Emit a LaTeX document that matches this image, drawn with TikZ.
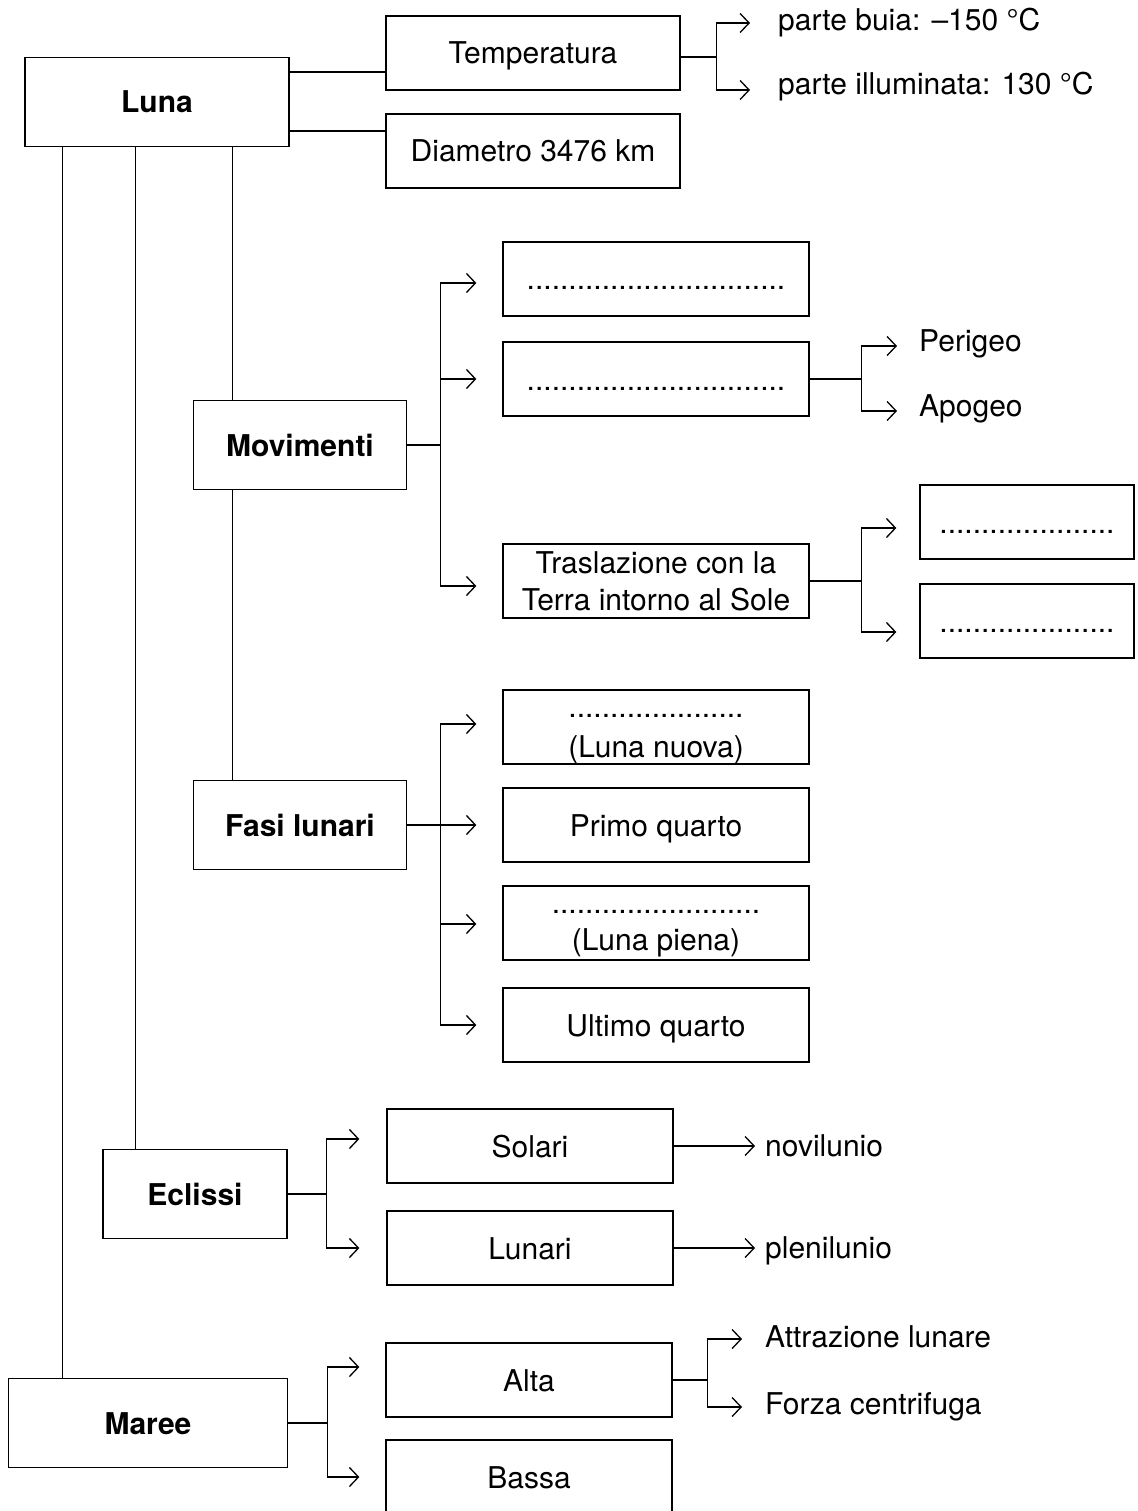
\documentclass[tikz,border=0pt]{standalone}
\usepackage{fontspec}
\setmainfont{TeX Gyre Heros}
\usetikzlibrary{arrows.meta,calc}
\begin{document}
\begin{tikzpicture}[x=1pt,y=-1pt,
  every node/.style={font=\fontsize{30}{37}\selectfont},
  box/.style={draw,line width=1.3pt,minimum width=#1,inner sep=0pt,align=center},
  one/.style={text height=22pt,text depth=0pt},
  sbox/.style={box=306pt,minimum height=74pt},
  cbox/.style={box=286pt,minimum height=74pt,one},
  hbox/.style={draw,line width=1.3pt,inner sep=0pt,minimum height=89pt,one,font=\fontsize{30}{36}\selectfont\bfseries},
  lbl/.style={inner sep=0pt,anchor=base west},
  ln/.style={line width=1.3pt},
  arr/.style={line width=1.3pt,-{Straight Barb[length=9pt,width=19pt,line width=1.3pt]}}
]
\useasboundingbox (0,0) rectangle (1137,1511);

% main nodes
\node[hbox,minimum width=264pt] (luna) at (157,102) {Luna};
\node[box=294pt,minimum height=74pt,one] (temp) at (533,53) {Temperatura};
\node[box=294pt,minimum height=74pt,one] (diam) at (533,151) {Diametro 3476 km};
\node[lbl] (pb) at (778,31) {parte buia: --150 °C};
\node[lbl] (pi) at (778,95) {parte illuminata: 130 °C};

\node[hbox,minimum width=213pt] (mov) at (300,445) {Movimenti};
\node[sbox,one] (m1) at (656,279) {...............................};
\node[sbox,one] (m2) at (656,379) {...............................};
\node[sbox] (m3) at (656,581) {Traslazione con la\\Terra intorno al Sole};
\node[lbl] (per) at (919,351) {Perigeo};
\node[lbl] (apo) at (919,416) {Apogeo};
\node[box=214pt,minimum height=74pt,one] (r1) at (1027,522) {.....................};
\node[box=214pt,minimum height=74pt,one] (r2) at (1027,621) {.....................};

\node[hbox,minimum width=213pt] (fasi) at (300,825) {Fasi lunari};
\node[sbox,text height=66pt,text depth=6pt,font=\fontsize{30}{40}\selectfont] (f1) at (656,727) {.....................\\(Luna nuova)};
\node[sbox,one] (f2) at (656,825) {Primo quarto};
\node[sbox,text height=60pt,text depth=6pt,font=\fontsize{30}{37}\selectfont] (f3) at (656,923) {.........................\\(Luna piena)};
\node[sbox,one] (f4) at (656,1025) {Ultimo quarto};

\node[hbox,minimum width=184pt] (ecl) at (195,1194) {Eclissi};
\node[cbox] (sol) at (530,1146) {Solari};
\node[cbox] (lun) at (530,1248) {Lunari};
\node[lbl] (nov) at (765,1156) {novilunio};
\node[lbl] (ple) at (765,1258) {plenilunio};

\node[hbox,minimum width=279pt] (mar) at (148,1423) {Maree};
\node[cbox] (alt) at (529,1380) {Alta};
\node[cbox] (bas) at (529,1477) {Bassa};
\node[lbl] (att) at (765,1347) {Attrazione lunare};
\node[lbl] (for) at (765,1414) {Forza centrifuga};

% Luna connectors
\coordinate (l1) at ([yshift=30pt]luna.east);
\coordinate (l2) at ([yshift=-29pt]luna.east);
\draw[ln] (l1) -- (l1 -| temp.west);
\draw[ln] (l2) -- (l2 -| diam.west);
\draw[ln] (luna.south west) ++(38pt,0) coordinate (v1) -- (v1 |- mar.north);
\draw[ln] (luna.south west) ++(111pt,0) coordinate (v2) -- (v2 |- ecl.north);
\draw[ln] (luna.south west) ++(208pt,0) coordinate (v3) -- (v3 |- mov.north);
\draw[ln] (mov.south -| v3) -- (fasi.north -| v3);

% temperatura branch
\coordinate (t0) at ([yshift=-4pt]temp.east);
\coordinate (tj) at ([xshift=36pt]t0);
\draw[ln] (t0) -- (tj);
\draw[arr] (tj) |- ([xshift=-28pt,yshift=8pt]pb.base west);
\draw[arr] (tj) |- ([xshift=-28pt,yshift=5pt]pi.base west);

% movimenti branch
\coordinate (mj) at ([xshift=33pt]mov.east);
\draw[ln] (mov.east) -- (mj);
\draw[arr] (mj) |- ([xshift=-26pt,yshift=-4pt]m1.west);
\draw[arr] (mj) |- ([xshift=-26pt]m2.west);
\draw[arr] (mj) |- ([xshift=-26pt,yshift=-5pt]m3.west);

\coordinate (pj) at ([xshift=52pt]m2.east);
\draw[ln] (m2.east) -- (pj);
\draw[arr] (pj) |- ([xshift=-22pt,yshift=5pt]per.base west);
\draw[arr] (pj) |- ([xshift=-22pt,yshift=5pt]apo.base west);

\coordinate (tj2) at ([xshift=52pt]m3.east);
\draw[ln] (m3.east) -- (tj2);
\draw[arr] (tj2) |- ([xshift=-23pt,yshift=-6pt]r1.west);
\draw[arr] (tj2) |- ([xshift=-23pt,yshift=-11pt]r2.west);

% fasi branch
\coordinate (fj) at ([xshift=33pt]fasi.east);
\draw[ln] (fasi.east) -- (fj);
\draw[arr] (fj) |- ([xshift=-26pt,yshift=3pt]f1.west);
\draw[arr] (fj) |- ([xshift=-26pt]f2.west);
\draw[arr] (fj) |- ([xshift=-26pt,yshift=-1pt]f3.west);
\draw[arr] (fj) |- ([xshift=-26pt]f4.west);

% eclissi branch
\coordinate (ej) at ([xshift=39pt]ecl.east);
\draw[ln] (ecl.east) -- (ej);
\draw[arr] (ej) |- ([xshift=-27pt,yshift=7pt]sol.west);
\draw[arr] (ej) |- ([xshift=-27pt]lun.west);
\draw[arr] (sol.east) -- ([xshift=-10pt,yshift=10pt]nov.base west);
\draw[arr] (lun.east) -- ([xshift=-10pt,yshift=10pt]ple.base west);

% maree branch
\coordinate (aj) at ([xshift=39pt]mar.east);
\draw[ln] (mar.east) -- (aj);
\draw[arr] (aj) |- ([xshift=-26pt,yshift=13pt]alt.west);
\draw[arr] (aj) |- ([xshift=-26pt]bas.west);

\coordinate (fj2) at ([xshift=35pt]alt.east);
\draw[ln] (alt.east) -- (fj2);
\draw[arr] (fj2) |- ([xshift=-23pt,yshift=8pt]att.base west);
\draw[arr] (fj2) |- ([xshift=-23pt,yshift=7pt]for.base west);
\end{tikzpicture}
\end{document}
